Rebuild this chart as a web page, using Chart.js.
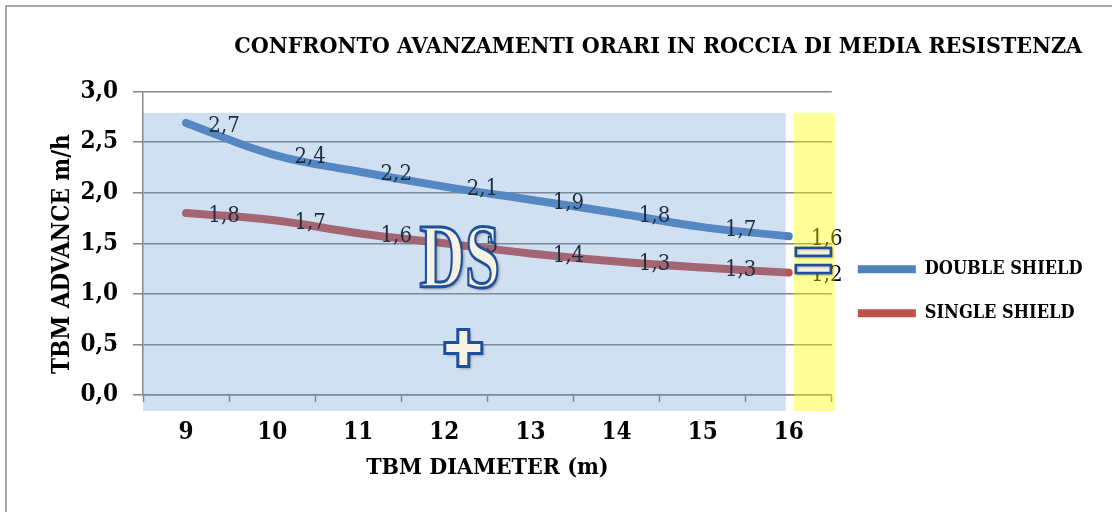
<!DOCTYPE html>
<html>
<head>
<meta charset="utf-8">
<script src="https://cdn.jsdelivr.net/npm/chart.js"></script>
<style>
  body { margin: 0; background: #fff; }
  #wrap { position: relative; width: 1112px; height: 512px; }
</style>
</head>
<body>
<div id="wrap"><canvas id="chart"></canvas></div>
<script>
// data
const diameters = ['9', '10', '11', '12', '13', '14', '15', '16'];
const doubleShield = [2.69, 2.38, 2.21, 2.06, 1.93, 1.80, 1.66, 1.57];
const singleShield = [1.80, 1.73, 1.60, 1.50, 1.40, 1.32, 1.26, 1.21];
const seriesNames = ['DOUBLE SHIELD', 'SINGLE SHIELD'];
const seriesColors = ['#4f81bd', '#c0504d'];

const SERIF = "'DejaVu Serif Condensed', 'Liberation Serif', serif";

// backgrounds, value labels and the DS / + / = marks from the original picture
const decorations = {
  id: 'decorations',
  beforeDraw(chart) {
    const ctx = chart.ctx;
    ctx.save();
    ctx.strokeStyle = '#8c8c8c';
    ctx.lineWidth = 1.5;
    ctx.beginPath();
    ctx.moveTo(6, 512);
    ctx.lineTo(6, 6);
    ctx.lineTo(1112, 6);
    ctx.stroke();
    ctx.restore();
  },
  afterDatasetsDraw(chart) {
    const ctx = chart.ctx;
    const area = chart.chartArea;
    const x = chart.scales.x;
    const y = chart.scales.y;

    // value labels, right of each point
    ctx.save();
    ctx.font = '22px ' + SERIF;
    ctx.fillStyle = '#000';
    ctx.textAlign = 'center';
    ctx.textBaseline = 'middle';
    chart.data.datasets.forEach((ds, i) => {
      chart.getDatasetMeta(i).data.forEach((pt, j) => {
        ctx.fillText(ds.data[j].toFixed(1).replace('.', ','), pt.x + 38, pt.y + 3);
      });
    });
    ctx.restore();

    // translucent light blue panel and yellow strip
    const panelTop = y.getPixelForValue(2.79);
    const panelBottom = area.bottom + 16;
    const lastX = x.getPixelForValue(diameters.length - 1);
    ctx.save();
    ctx.fillStyle = 'rgba(98, 152, 205, 0.3)';
    ctx.fillRect(area.left, panelTop, lastX - 3 - area.left, panelBottom - panelTop);
    ctx.fillStyle = 'rgba(255, 255, 0, 0.4)';
    ctx.fillRect(lastX + 5, panelTop, area.right + 3 - (lastX + 5), panelBottom - panelTop);
    ctx.restore();

    const cream = '#f5f1e3';
    const navy = '#1d4f9c';

    // "DS"
    const dsX = x.getPixelForValue(3.18);
    const dsY = y.getPixelForValue(1.35);
    ctx.save();
    ctx.translate(dsX, dsY);
    ctx.scale(0.7, 1);
    ctx.font = 'bold 90px "Liberation Serif", serif';
    ctx.textAlign = 'center';
    ctx.textBaseline = 'middle';
    ctx.shadowColor = 'rgba(0,0,0,0.35)';
    ctx.shadowOffsetX = 2;
    ctx.shadowOffsetY = 2;
    ctx.shadowBlur = 3;
    ctx.fillStyle = cream;
    ctx.fillText('DS', 0, 5);
    ctx.shadowColor = 'transparent';
    ctx.lineWidth = 3;
    ctx.strokeStyle = navy;
    ctx.strokeText('DS', 0, 5);
    ctx.restore();

    // "+"
    const px = x.getPixelForValue(3.22);
    const py = y.getPixelForValue(0.465);
    const arm = 18.5, half = 5.5;
    ctx.save();
    ctx.beginPath();
    ctx.moveTo(px - half, py - arm);
    ctx.lineTo(px + half, py - arm);
    ctx.lineTo(px + half, py - half);
    ctx.lineTo(px + arm, py - half);
    ctx.lineTo(px + arm, py + half);
    ctx.lineTo(px + half, py + half);
    ctx.lineTo(px + half, py + arm);
    ctx.lineTo(px - half, py + arm);
    ctx.lineTo(px - half, py + half);
    ctx.lineTo(px - arm, py + half);
    ctx.lineTo(px - arm, py - half);
    ctx.lineTo(px - half, py - half);
    ctx.closePath();
    ctx.shadowColor = 'rgba(0,0,0,0.35)';
    ctx.shadowOffsetX = 2;
    ctx.shadowOffsetY = 2;
    ctx.shadowBlur = 3;
    ctx.fillStyle = cream;
    ctx.fill();
    ctx.shadowColor = 'transparent';
    ctx.lineWidth = 3;
    ctx.strokeStyle = navy;
    ctx.stroke();
    ctx.restore();

    // "="
    const ex = lastX + 7;
    const ew = area.right - 1 - ex;
    ctx.save();
    ctx.fillStyle = cream;
    ctx.strokeStyle = navy;
    ctx.lineWidth = 2.5;
    ctx.shadowColor = 'rgba(0,0,0,0.3)';
    ctx.shadowOffsetX = 1;
    ctx.shadowOffsetY = 1;
    ctx.shadowBlur = 2;
    [1.455, 1.285].forEach(v => {
      const ry = y.getPixelForValue(v);
      ctx.fillRect(ex, ry, ew, 8);
      ctx.strokeRect(ex, ry, ew, 8);
    });
    ctx.restore();
  }
};

new Chart(document.getElementById('chart'), {
  type: 'line',
  data: {
    labels: diameters,
    datasets: [
      {
        label: seriesNames[0],
        data: doubleShield,
        borderColor: seriesColors[0],
        backgroundColor: seriesColors[0],
        borderWidth: 8,
        borderCapStyle: 'round',
        pointRadius: 0,
        tension: 0.4
      },
      {
        label: seriesNames[1],
        data: singleShield,
        borderColor: seriesColors[1],
        backgroundColor: seriesColors[1],
        borderWidth: 8,
        borderCapStyle: 'round',
        pointRadius: 0,
        tension: 0.4
      }
    ]
  },
  options: {
    responsive: true,
    maintainAspectRatio: false,
    animation: false,
    layout: { padding: { left: 40, right: 19.5, top: 0, bottom: 30 } },
    plugins: {
      title: {
        display: true,
        // trailing en space keeps the title's right end clear of the canvas edge
        text: 'CONFRONTO AVANZAMENTI ORARI IN ROCCIA DI MEDIA RESISTENZA\u2002',
        align: 'end',
        color: '#000',
        font: { family: SERIF, size: 23, weight: 'bold' },
        padding: { top: 33, bottom: 31 }
      },
      legend: {
        position: 'right',
        title: { display: true, text: '', padding: 43 },
        labels: {
          color: '#000',
          font: { family: SERIF, size: 18, weight: 'bold' },
          boxWidth: 58,
          boxHeight: 8,
          padding: 26,
          useBorderRadius: true,
          borderRadius: 4,
          generateLabels(chart) {
            return chart.data.datasets.map((ds, i) => ({
              text: ds.label,
              fillStyle: ds.borderColor,
              strokeStyle: ds.borderColor,
              lineWidth: 0,
              fontColor: '#000',
              datasetIndex: i,
              hidden: false
            }));
          }
        }
      },
      tooltip: { enabled: false }
    },
    scales: {
      x: {
        offset: true,
        afterFit: s => { s.height = 87; },
        grid: {
          drawOnChartArea: false,
          drawTicks: true,
          tickLength: 7,
          tickColor: '#868686',
          tickWidth: 1.5,
          offset: true
        },
        border: { color: '#868686', width: 1.5 },
        ticks: {
          color: '#000',
          padding: 16,
          font: { family: SERIF, size: 24, weight: 'bold' }
        },
        title: {
          display: true,
          text: 'TBM DIAMETER (m)',
          color: '#000',
          font: { family: SERIF, size: 23, weight: 'bold' },
          padding: { top: 0, bottom: 0 }
        }
      },
      y: {
        min: 0,
        max: 3,
        afterFit: s => { s.width = 103; },
        ticks: {
          stepSize: 0.5,
          color: '#000',
          padding: 15,
          font: { family: SERIF, size: 24, weight: 'bold' },
          callback: v => v.toFixed(1).replace('.', ',')
        },
        grid: {
          color: '#868686',
          lineWidth: 1.5,
          tickLength: 10,
          tickColor: '#868686'
        },
        border: { color: '#868686', width: 1.5 },
        title: {
          display: true,
          // trailing en spaces move the rotated title slightly down, as in the original
          text: 'TBM ADVANCE m/h\u2002\u2002',
          color: '#000',
          font: { family: SERIF, size: 24, weight: 'bold' },
          padding: { top: 8, bottom: 0 }
        }
      }
    }
  },
  plugins: [decorations]
});
</script>
</body>
</html>
